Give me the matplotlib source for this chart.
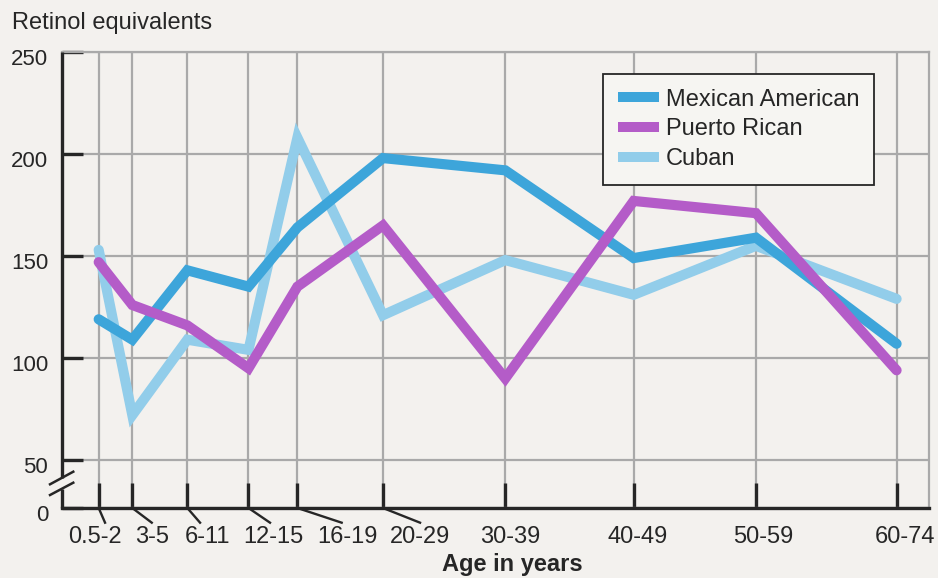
import numpy as np
import matplotlib
matplotlib.use("Agg")
import matplotlib.pyplot as plt
from matplotlib.lines import Line2D
from matplotlib.transforms import ScaledTranslation

# -------- DATA --------
ages = ["0.5-2", "3-5", "6-11", "12-15", "16-19", "20-29", "30-39", "40-49", "50-59", "60-74"]
# position of each age group on the axis (years, roughly the group midpoint)
x_pos = [1.25, 4, 8.5, 13.5, 17.5, 24.5, 34.5, 45, 55, 66.5]

mexican = [119, 109, 143, 135, 164, 198, 192, 149, 159, 107]
puerto = [147, 126, 116, 95, 135, 165, 90, 177, 171, 94]
cuban = [153, 72, 109, 104, 208, 121, 148, 131, 155, 129]

y_ticks = [0, 50, 100, 150, 200, 250]

# label placement (years) - staggered labels with leader lines
label_x = [0.95, 5.61, 10.11, 15.50, 21.56, 27.53, 34.89, 45.35, 55.57, 67.19]
leader_x = [1.77, 5.59, 9.54, 15.26, 21.12, 27.53]

# -------- STYLE --------
BG = "#f3f1ee"
INK = "#262626"
GRID = "#a9a9a9"
C_MEX = "#3da5da"
C_PR = "#b45cc8"
C_CUB = "#92cdea"

plt.rcParams["font.family"] = ["Liberation Sans", "DejaVu Sans"]

fig = plt.figure(figsize=(9.38, 5.78), dpi=100, facecolor=BG)
ax = fig.add_axes([62 / 938, 70 / 578, 867 / 938, 456 / 578])
ax.set_facecolor(BG)

# broken axis: squeeze 0-50 band
K = 0.47


def fwd(y):
    y = np.asarray(y, dtype=float)
    return np.where(y >= 50, y, 50 - (50 - y) * K)


def inv(y):
    y = np.asarray(y, dtype=float)
    return np.where(y >= 50, y, 50 - (50 - y) / K)


ax.set_yscale("function", functions=(fwd, inv))
ax.set_ylim(0, 250)
ax.set_xlim(-1.75, 69.15)

# -------- LINES --------
kw = dict(linewidth=7.3, solid_capstyle="round", solid_joinstyle="miter")
ax.plot(x_pos, cuban, color=C_CUB, zorder=3, **kw)
ax.plot(x_pos, mexican, color=C_MEX, zorder=4, **kw)
ax.plot(x_pos, puerto, color=C_PR, zorder=5, **kw)

# -------- GRID / TICKS --------
ax.set_xticks(x_pos)
ax.set_xticklabels([])
ax.set_yticks(y_ticks)
ax.set_yticklabels([str(v) for v in y_ticks])
ax.grid(True, color=GRID, linewidth=1.6, zorder=1)
ax.set_axisbelow(True)

ax.tick_params(axis="x", direction="in", length=18, width=2.4, color=INK)
ax.tick_params(axis="y", direction="in", length=15, width=2.4, color=INK,
               pad=10, labelsize=16, labelcolor=INK)
off = ScaledTranslation(0, -5 / 100, fig.dpi_scale_trans)
for lab in ax.get_yticklabels():
    lab.set_transform(lab.get_transform() + off)

ax.spines["left"].set_visible(False)
ax.spines["bottom"].set_color(INK)
ax.spines["bottom"].set_linewidth(2.4)
for s in ["top", "right"]:
    ax.spines[s].set_color(GRID)
    ax.spines[s].set_linewidth(1.6)

# left axis with break marks
ta = ax.transAxes
ax.plot([0, 0], [0.0658, 1], color=INK, lw=2.4, transform=ta, clip_on=False, zorder=6,
        solid_capstyle="butt")
ax.plot([0, 0], [0, 0.0417], color=INK, lw=2.4, transform=ta, clip_on=False, zorder=6,
        solid_capstyle="butt")
ax.plot([-0.0138, 0.0130], [0.052, 0.0796], color=INK, lw=1.8, transform=ta, clip_on=False)
ax.plot([-0.0138, 0.0130], [0.0285, 0.0555], color=INK, lw=1.8, transform=ta, clip_on=False)

# x labels with leader lines
tx = ax.get_xaxis_transform()
for i, (xp, lx, lab) in enumerate(zip(x_pos, label_x, ages)):
    if i < len(leader_x):
        ax.plot([xp, leader_x[i]], [0, -0.0322], color=INK, lw=1.7,
                transform=tx, clip_on=False)
    ax.text(lx, -0.0768, lab, transform=tx, ha="center", va="baseline",
            fontsize=17, color=INK)

fig.text(512 / 938, 1 - 571 / 578, "Age in years", ha="center", va="baseline",
         fontsize=17, fontweight="bold", color=INK)
fig.text(12 / 938, 1 - 29 / 578, "Retinol equivalents", ha="left", va="baseline",
         fontsize=17, color=INK)

# -------- LEGEND --------
handles = [
    Line2D([], [], color=C_MEX, lw=7.2, solid_capstyle="butt"),
    Line2D([], [], color=C_PR, lw=7.2, solid_capstyle="butt"),
    Line2D([], [], color=C_CUB, lw=7.2, solid_capstyle="butt"),
]
leg = ax.legend(handles, ["Mexican American", "Puerto Rican", "Cuban"],
                loc="upper left", bbox_to_anchor=(0.624, 0.952), borderaxespad=0,
                fontsize=17, handlelength=1.74, handletextpad=0.3,
                labelspacing=0.33, borderpad=0.62, fancybox=False,
                facecolor="#f6f5f2", edgecolor=INK, framealpha=1)
leg.get_frame().set_linewidth(1.3)
for t in leg.get_texts():
    t.set_color(INK)
leg.set_zorder(7)

fig.savefig("out.png", dpi=100, facecolor=BG)
